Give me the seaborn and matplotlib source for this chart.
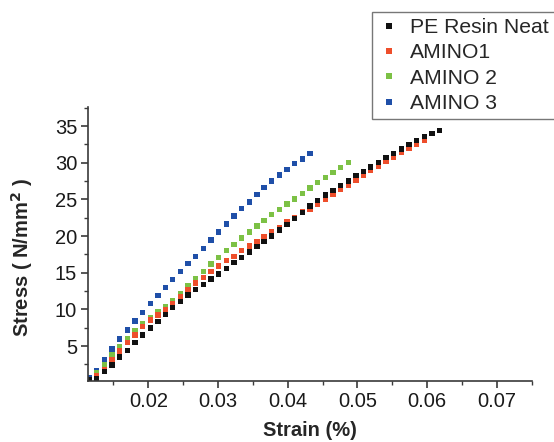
import matplotlib
matplotlib.use("Agg")
import matplotlib.pyplot as plt
import seaborn as sns
import pandas as pd
from matplotlib.ticker import MultipleLocator

# ---- data ----
strain = [0.0115, 0.0126, 0.0137, 0.0148, 0.0159, 0.0170, 0.0181, 0.0192, 0.0203, 0.0214,
          0.0225, 0.0235, 0.0246, 0.0257, 0.0268, 0.0279, 0.0290, 0.0301, 0.0312, 0.0323,
          0.0334, 0.0345, 0.0356, 0.0366, 0.0377, 0.0388, 0.0399, 0.0410, 0.0421, 0.0432,
          0.0443, 0.0454, 0.0465, 0.0476, 0.0487, 0.0498, 0.0509, 0.0519, 0.0530, 0.0541,
          0.0552, 0.0563, 0.0574, 0.0585, 0.0596, 0.0607, 0.0618]

strain_neat = strain[0:47]
stress_neat = [0.35, 0.59, 1.49, 2.41, 3.50, 4.43, 5.50, 6.50, 7.48, 8.37,
               9.30, 10.23, 11.11, 11.96, 12.71, 13.42, 14.14, 14.82, 15.55, 16.36,
               17.10, 17.82, 18.55, 19.23, 20.01, 20.83, 21.60, 22.39, 23.24, 24.10,
               24.88, 25.60, 26.24, 26.87, 27.51, 28.23, 28.78, 29.42, 30.06, 30.69,
               31.29, 31.88, 32.52, 33.01, 33.55, 34.02, 34.43]

strain_amino1 = strain[1:45]
stress_amino1 = [0.91, 1.73, 3.09, 4.32, 5.45, 6.50, 7.63, 8.55, 9.23, 9.91,
                 10.83, 11.73, 12.74, 13.59, 14.37, 15.16, 15.91, 16.64, 17.18, 18.00,
                 18.64, 19.23, 19.91, 20.59, 21.19, 21.96, 22.56, 23.28, 23.65, 24.37,
                 25.05, 25.74, 26.38, 26.96, 27.61, 28.23, 28.92, 29.56, 30.20, 30.78,
                 31.43, 32.01, 32.52, 33.01]

strain_amino2 = strain[1:35]
stress_amino2 = [1.30, 2.48, 3.87, 4.90, 6.05, 7.05, 8.04, 8.86, 9.64, 10.42,
                 11.18, 12.14, 13.27, 14.25, 15.20, 16.17, 17.10, 18.00, 18.87, 19.73,
                 20.55, 21.37, 22.15, 22.91, 23.66, 24.37, 25.08, 25.83, 26.56, 27.28,
                 27.96, 28.64, 29.38, 30.01]

strain_amino3 = strain[0:30]
stress_amino3 = [0.73, 1.70, 3.11, 4.59, 5.95, 7.18, 8.41, 9.60, 10.77, 11.86,
                 13.01, 14.10, 15.14, 16.24, 17.18, 18.33, 19.48, 20.57, 21.67, 22.74,
                 23.76, 24.67, 25.64, 26.65, 27.51, 28.35, 29.08, 29.87, 30.53, 31.25]

labels = ["PE Resin Neat", "AMINO1", "AMINO 2", "AMINO 3"]
colors = ["#111111", "#EE4E2B", "#7CC145", "#1F4FA8"]

xticks = [0.02, 0.03, 0.04, 0.05, 0.06, 0.07]
yticks = [5, 10, 15, 20, 25, 30, 35]

# ---- long table (draw order: AMINO 3 first, neat last) ----
frames = []
for name, xs, ys in [(labels[3], strain_amino3, stress_amino3),
                     (labels[2], strain_amino2, stress_amino2),
                     (labels[1], strain_amino1, stress_amino1),
                     (labels[0], strain_neat, stress_neat)]:
    frames.append(pd.DataFrame({"Strain": xs, "Stress": ys, "Sample": name}))
df = pd.concat(frames, ignore_index=True)

sns.set_theme(style="ticks")
plt.rcParams["font.family"] = ["Liberation Sans", "DejaVu Sans"]

fig = plt.figure(figsize=(5.54, 4.42), dpi=100)
ax = fig.add_axes([88.3 / 554, 1 - 380.7 / 442, (531.7 - 88.3) / 554, (380.7 - 106.7) / 442])

sns.scatterplot(data=df, x="Strain", y="Stress", hue="Sample", hue_order=labels,
                palette=dict(zip(labels, colors)), marker="s", s=15, linewidth=0,
                ax=ax, legend=True)

ax.set_xlim(0.01139, 0.07502)
ax.set_ylim(0.27, 37.65)
ax.set_xticks(xticks)
ax.set_xticklabels([f"{v:.2f}" for v in xticks])
ax.set_yticks(yticks)
ax.set_yticklabels([str(v) for v in yticks])
ax.xaxis.set_minor_locator(MultipleLocator(0.005))
ax.yaxis.set_minor_locator(MultipleLocator(2.5))

for side in ["top", "right"]:
    ax.spines[side].set_visible(False)
for side in ["left", "bottom"]:
    ax.spines[side].set_color("#3a3a3a")
    ax.spines[side].set_linewidth(1.2)

ax.tick_params(which="major", direction="out", length=5, width=1.2, color="#3a3a3a",
               labelsize=14.5, labelcolor="#1a1a1a", pad=3)
ax.tick_params(which="minor", direction="out", length=3, width=1.0, color="#3a3a3a")

ax.set_xlabel("Strain (%)", fontsize=14.5, fontweight="bold", labelpad=7)
ax.set_ylabel("Stress ( N/mm$^\\mathbf{2}$ )", fontsize=14.5, fontweight="bold", labelpad=14)
ax.yaxis.label.set_y(0.45)

handles, lbls = ax.get_legend_handles_labels()
ax.legend(handles, lbls, loc="upper left", bbox_to_anchor=(371.7 / 554, 1 - 11.7 / 442),
          bbox_transform=fig.transFigure, borderaxespad=0, frameon=True, fancybox=False,
          edgecolor="#555555", fontsize=15.2, handlelength=1.0, handletextpad=0.5,
          borderpad=0.3, labelspacing=0.30, markerscale=1.0)
ax.get_legend().get_frame().set_linewidth(1.0)

fig.savefig("out.png", dpi=100)
